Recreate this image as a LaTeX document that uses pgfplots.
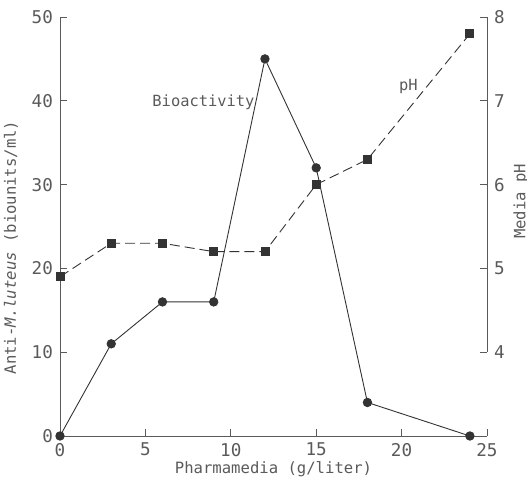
\documentclass[border=0pt]{standalone}
\usepackage{pgfplots}
\pgfplotsset{compat=1.18}
\usepackage{fontspec}
\setmainfont{DejaVu Sans Mono}
\definecolor{txt}{HTML}{5A5A5A}
\definecolor{ln}{HTML}{333333}
\begin{document}
\begin{tikzpicture}[x=0.5pt,y=0.5pt]
\useasboundingbox (-60,-51) rectangle (467,436);
\begin{axis}[
  at={(0,0)}, anchor=south west,
  scale only axis, width=213.5pt, height=209.5pt,
  xmin=0, xmax=25, ymin=0, ymax=50,
  axis x line*=bottom, axis y line*=left,
  xtick={0,5,10,15,20,25}, ytick={0,10,20,30,40,50},
  tick align=inside, major tick length=3.5pt,
  axis line style={color=txt, line width=0.4pt},
  every tick/.style={color=txt, line width=0.4pt},
  tick label style={font=\fontsize{8.8}{10}\selectfont, text=txt},
  /pgf/number format/assume math mode=true,
  clip=false,
]
\addplot[color=ln, line width=0.45pt, mark=*, mark size=2.1pt, mark options={fill=ln, solid}]
  coordinates {(0,0) (3,11) (6,16) (9,16) (12,45) (15,32) (18,4) (24,0)};
\node[font=\fontsize{7.7}{10}\selectfont, text=txt] at (axis cs:8.4,39.8) {Bioactivity};
\node[font=\fontsize{7.7}{10}\selectfont, text=txt] at (axis cs:20.4,41.7) {pH};
\node[rotate=90, font=\fontsize{7.8}{10}\selectfont, text=txt] at (rel axis cs:-0.115,0.45) {Anti-\textit{M.luteus} (biounits/ml)};
\node[font=\fontsize{7.8}{10}\selectfont, text=txt] at (rel axis cs:0.5,-0.08) {Pharmamedia (g/liter)};
\end{axis}
\begin{axis}[
  at={(0,0)}, anchor=south west,
  scale only axis, width=213.5pt, height=209.5pt,
  xmin=0, xmax=25, ymin=3, ymax=8,
  axis x line=none, axis y line*=right,
  ytick={4,5,6,7,8},
  tick align=inside, major tick length=3.5pt,
  y axis line style={draw=none},
  every tick/.style={color=txt, line width=0.4pt},
  tick label style={font=\fontsize{8.8}{10}\selectfont, text=txt},
  /pgf/number format/assume math mode=true,
  clip=false,
]
\draw[color=txt, line width=0.4pt] (axis cs:25,4) -- (axis cs:25,8);
\addplot[color=ln, line width=0.45pt, dash pattern=on 5pt off 2.5pt, mark=square*, mark size=2pt, mark options={fill=ln, solid}]
  coordinates {(0,4.9) (3,5.3) (6,5.3) (9,5.2) (12,5.2) (15,6.0) (18,6.3) (24,7.8)};
\node[rotate=90, font=\fontsize{7.8}{10}\selectfont, text=txt] at (rel axis cs:1.08,0.56) {Media pH};
\end{axis}
\end{tikzpicture}
\end{document}
